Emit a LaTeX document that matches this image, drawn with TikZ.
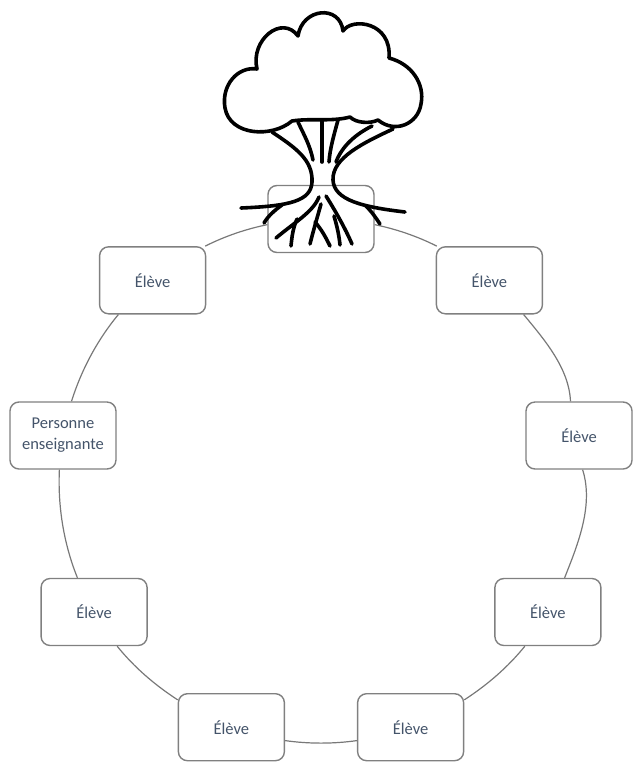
\documentclass[tikz,border=0pt]{standalone}
\usepackage{fontspec}
\setmainfont{Carlito}
\usetikzlibrary{calc}
\definecolor{boxline}{RGB}{128,128,128}
\definecolor{conline}{RGB}{120,120,120}
\definecolor{txt}{RGB}{68,84,106}
\begin{document}
\begin{tikzpicture}[x=1pt,y=1pt,
  box/.style={draw=boxline, line width=1.4pt, rounded corners=9pt, fill=white,
    minimum width=106pt, minimum height=67pt, inner sep=0pt, align=center,
    text=txt, font=\fontsize{16.5}{21}\selectfont},
  conn/.style={draw=conline, line width=1.2pt, looseness=0.86},
  treeline/.style={line width=3.6pt, line cap=round, line join=round, draw=black}]
\useasboundingbox (0,0) rectangle (633,-764);
\coordinate (C) at (321,-481);
\node[box] (n90)  at ($(C)+(90:262)$)  {};
\node[box] (n130) at ($(C)+(130:262)$) {Élève};
\node[box] (n170) at ($(C)+(170:262)$) {Personne\\enseignante};
\node[box] (n210) at ($(C)+(210:262)$) {Élève};
\node[box] (n250) at ($(C)+(250:262)$) {Élève};
\node[box] (n290) at ($(C)+(290:262)$) {Élève};
\node[box] (n330) at ($(C)+(330:262)$) {Élève};
\node[box] (n10)  at ($(C)+(10:262)$)  {Élève};
\node[box] (n50)  at ($(C)+(50:262)$)  {Élève};
% ring connectors
\draw[conn] (n90.186) to[out=191.7,in=26.7] (n130.33);
\draw[conn] (n130.225) to[out=230.4,in=72.5] (n170.76);
\draw[conn] (n170.264) to[out=267.4,in=111.9] (n210.116);
\draw[conn] (n210.304) to[out=308.9,in=147] (n250.153);
\draw[conn] (n250.346) to[out=352,in=188] (n290.194);
\draw[conn] (n290.27) to[out=33,in=231.1] (n330.236);
\draw[conn] (n330.64) to[out=68.2,in=287.6] (n10.276);
\draw[conn] (n10.104) to[out=92.6,in=309.6] (n50.315);
\draw[conn] (n50.147) to[out=153.3,in=348.3] (n90.354);
% tree
\begin{scope}[yscale=-1]
\draw[treeline, fill=white] (292,121)
  .. controls (272,138) and (230,136) .. (225,108)
  .. controls (221,85) and (238,66) .. (257,69)
  .. controls (250,40) and (282,14) .. (298,36)
  .. controls (302,8) and (340,4) .. (343,31)
  .. controls (352,17) and (392,22) .. (389,58)
  .. controls (412,64) and (425,84) .. (421,104)
  .. controls (418,124) and (395,134) .. (378,120)
  .. controls (370,124) and (356,123) .. (350,117)
  .. controls (332,122) and (310,118) .. (292,121) -- cycle;
% trunk outlines with main roots
\draw[treeline] (272,132) .. controls (296,148) and (313,160) .. (312,182)
  .. controls (311,201) and (290,206) .. (241,208);
\draw[treeline] (393,129) .. controls (363,143) and (332,158) .. (333,180)
  .. controls (334,200) and (362,207) .. (405,212);
% inner trunk strokes
\draw[treeline] (298,122) .. controls (304,135) and (310,145) .. (313,160);
\draw[treeline] (322,121) -- (322,162);
\draw[treeline] (338,120) .. controls (334,135) and (330,148) .. (329,162);
\draw[treeline] (372,126) .. controls (356,134) and (342,146) .. (336,162);
% roots
\draw[treeline] (282,205) .. controls (275,210) and (268,216) .. (264,223);
\draw[treeline] (319,197) .. controls (313,212) and (295,222) .. (276,238);
\draw[treeline] (297,219) .. controls (293,228) and (292,236) .. (291,246);
\draw[treeline] (321,204) .. controls (318,215) and (314,228) .. (310,244);
\draw[treeline] (315,222) .. controls (322,230) and (326,238) .. (330,246);
\draw[treeline] (326,196) .. controls (336,212) and (345,228) .. (352,244);
\draw[treeline] (334,216) .. controls (337,226) and (339,235) .. (340,245);
\draw[treeline] (366,206) .. controls (372,212) and (376,218) .. (380,224);
\end{scope}
\end{tikzpicture}
\end{document}
